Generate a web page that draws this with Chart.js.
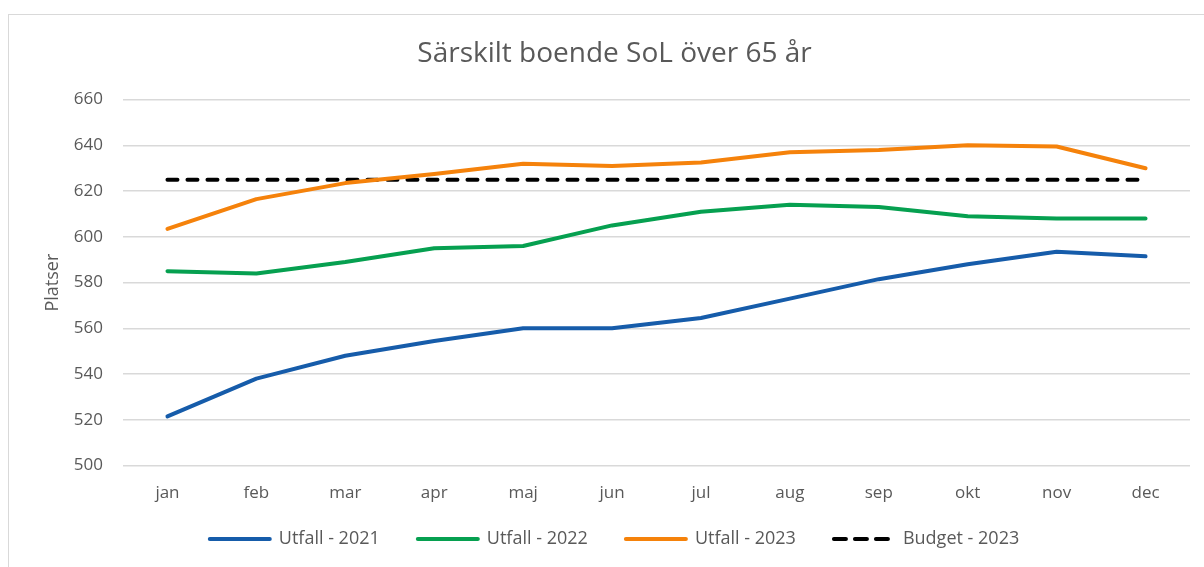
<!DOCTYPE html>
<html lang="sv">

<head>
    <meta charset="UTF-8">
    <title>Särskilt boende SoL över 65 år</title>
    <script src="https://cdn.jsdelivr.net/npm/chart.js@4"></script>
    <style>
        html,
        body {
            margin: 0;
            padding: 0;
            background: #fff;
            overflow: hidden;
        }

        /* ram runt diagrammet, syns bara uppe och till vänster */
        .frame {
            position: absolute;
            left: 8px;
            top: 14px;
            width: 1400px;
            height: 800px;
            border: 1px solid #d9d9d9;
        }

        .chart_box {
            position: absolute;
            left: 0;
            top: 0;
            width: 1204px;
            height: 567px;
        }
    </style>
</head>

<body>
    <div class="frame"></div>
    <div class="chart_box">
        <canvas id="platser"></canvas>
    </div>

    <script>
        const months = ['jan', 'feb', 'mar', 'apr', 'maj', 'jun', 'jul', 'aug', 'sep', 'okt', 'nov', 'dec'];

        const utfall2021 = [521.5, 538, 548, 554.5, 560, 560, 564.5, 573, 581.5, 588, 593.5, 591.5];
        const utfall2022 = [585, 584, 589, 595, 596, 605, 611, 614, 613, 609, 608, 608];
        const utfall2023 = [603.5, 616.5, 623.5, 627.5, 632, 631, 632.5, 637, 638, 640, 639.5, 630];
        const budget2023 = [625, 625, 625, 625, 625, 625, 625, 625, 625, 625, 625, 625];

        const yTicks = [500, 520, 540, 560, 580, 600, 620, 640, 660];

        const textColor = '#595959';
        const font = 'Open Sans';

        function serie(label, data, color, dash) {
            return {
                label: label,
                data: data,
                borderColor: color,
                backgroundColor: color,
                borderWidth: 4,
                borderDash: dash || [],
                borderCapStyle: 'round',
                borderJoinStyle: 'round',
                pointRadius: 0,
                tension: 0
            };
        }

        new Chart(document.getElementById('platser'), {
            type: 'line',
            data: {
                labels: months,
                datasets: [
                    serie('Utfall - 2021', utfall2021, '#165CAA'),
                    serie('Utfall - 2022', utfall2022, '#06A050'),
                    serie('Utfall - 2023', utfall2023, '#F5820B'),
                    serie('Budget - 2023', budget2023, '#000000', [10, 10])
                ]
            },
            options: {
                responsive: true,
                maintainAspectRatio: false,
                animation: false,
                layout: {
                    padding: { left: 39, right: 14, top: 0, bottom: 9 }
                },
                plugins: {
                    title: {
                        display: true,
                        text: 'Särskilt boende SoL över 65 år',
                        color: textColor,
                        font: { family: font, size: 28, weight: 'normal' },
                        padding: { top: 37, bottom: 29 }
                    },
                    legend: {
                        position: 'bottom',
                        labels: {
                            color: textColor,
                            font: { family: font, size: 18 },
                            usePointStyle: true,
                            pointStyle: 'line',
                            pointStyleWidth: 60,
                            padding: 10,
                            generateLabels(chart) {
                                const items = Chart.defaults.plugins.legend.labels.generateLabels(chart);
                                items.forEach((item, i) => {
                                    const ds = chart.data.datasets[item.datasetIndex];
                                    item.lineWidth = ds.borderWidth;
                                    // i förklaringen blir det tre streck
                                    item.lineDash = ds.borderDash.length ? [12, 9] : [];
                                    item.lineCap = 'round';
                                    item.strokeStyle = ds.borderColor;
                                    // lite extra luft mellan posterna
                                    if (i < items.length - 1) item.text = item.text + '      ';
                                });
                                return items;
                            }
                        }
                    },
                    tooltip: { enabled: false }
                },
                scales: {
                    x: {
                        offset: true,
                        grid: { display: false, drawTicks: false },
                        border: { display: false },
                        ticks: {
                            color: textColor,
                            font: { family: font, size: 17 },
                            padding: 17,
                            maxRotation: 0
                        }
                    },
                    y: {
                        min: yTicks[0],
                        max: yTicks[yTicks.length - 1],
                        afterBuildTicks(axis) {
                            axis.ticks = yTicks.map(v => ({ value: v }));
                        },
                        afterFit(axis) {
                            axis.width = 84;
                        },
                        grid: { color: '#d9d9d9', lineWidth: 1.5, drawTicks: false },
                        border: { display: false },
                        ticks: {
                            color: textColor,
                            font: { family: font, size: 17 },
                            padding: 20
                        },
                        title: {
                            display: true,
                            text: 'Platser',
                            color: textColor,
                            font: { family: font, size: 18 },
                            padding: { top: 3, bottom: 0 }
                        }
                    }
                }
            }
        });
    </script>
</body>

</html>
